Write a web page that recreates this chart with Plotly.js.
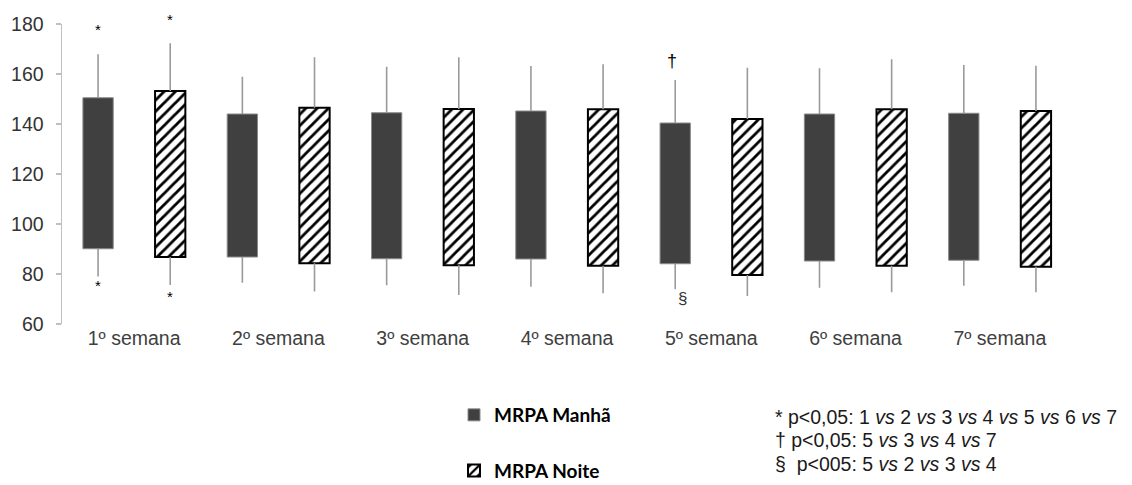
<!DOCTYPE html>
<html>
<head>
<meta charset="utf-8">
<script src="https://cdn.plot.ly/plotly-3.0.1.min.js"></script>
<style>html,body{margin:0;padding:0;background:#fff;}#chart{width:1132px;height:485px;}</style>
</head>
<body>
<div id="chart"></div>
<script>
// ---- data ----
const weeks = ["1º semana","2º semana","3º semana","4º semana","5º semana","6º semana","7º semana"];
// MRPA Manhã: bar spans diastolic mean -> systolic mean, whiskers to extremes
const manhaTop        = [150.5, 144.0, 144.5, 145.2, 140.4, 144.0, 144.3];
const manhaBottom     = [ 90.1,  86.8,  86.1,  86.0,  84.1,  85.2,  85.5];
const manhaWhiskTop   = [167.9, 158.9, 162.9, 163.2, 157.6, 162.3, 163.6];
const manhaWhiskBot   = [ 79.0,  76.5,  75.5,  74.9,  73.9,  74.5,  75.3];
// MRPA Noite
const noiteTop        = [153.2, 146.5, 146.0, 145.9, 142.0, 145.9, 145.2];
const noiteBottom     = [ 86.8,  84.3,  83.5,  83.3,  79.6,  83.3,  82.9];
const noiteWhiskTop   = [172.3, 166.7, 166.7, 163.9, 162.5, 165.9, 163.3];
const noiteWhiskBot   = [ 75.6,  73.0,  71.6,  72.3,  71.2,  72.7,  72.7];
const yTicks = [60, 80, 100, 120, 140, 160, 180];
const seriesNames = ["MRPA Manhã", "MRPA Noite"];
const notes = [
  "* p<0,05: 1 <i>vs</i> 2 <i>vs</i> 3 <i>vs</i> 4 <i>vs</i> 5 <i>vs</i> 6 <i>vs</i> 7",
  "† p<0,05: 5 <i>vs</i> 3 <i>vs</i> 4 <i>vs</i> 7",
  "§  p<005: 5 <i>vs</i> 2 <i>vs</i> 3 <i>vs</i> 4"
];

// ---- layout helpers ----
const idx = weeks.map((_, i) => i + 1);
const OFF = 0.25, BW = 0.21;
const xM = idx.map(v => v - OFF);
const xN = idx.map(v => v + OFF);

function whiskers(xs, top, bot, wTop, wBot) {
  const x = [], y = [];
  xs.forEach((xv, i) => {
    x.push(xv, xv, null, xv, xv, null);
    y.push(top[i], wTop[i], null, bot[i], wBot[i], null);
  });
  return {x, y};
}
const wM = whiskers(xM, manhaTop, manhaBottom, manhaWhiskTop, manhaWhiskBot);
const wN = whiskers(xN, noiteTop, noiteBottom, noiteWhiskTop, noiteWhiskBot);

const traces = [
  {type:'scatter', mode:'lines', x:wM.x, y:wM.y, line:{color:'#9a9a9a', width:1.6},
   showlegend:false, hoverinfo:'skip'},
  {type:'scatter', mode:'lines', x:wN.x, y:wN.y, line:{color:'#9a9a9a', width:1.6},
   showlegend:false, hoverinfo:'skip'},
  {type:'bar', name:seriesNames[0], legendgroup:'m', x:xM,
   base:manhaBottom, y:manhaTop.map((t,i)=>t-manhaBottom[i]), width:BW,
   marker:{color:'#404040', line:{color:'#8a8a8a', width:1}}},
  {type:'bar', name:seriesNames[1], legendgroup:'n', x:xN,
   base:noiteBottom, y:noiteTop.map((t,i)=>t-noiteBottom[i]), width:BW,
   marker:{color:'#ffffff', line:{color:'#000000', width:2},
     pattern:{shape:'/', fgcolor:'#000000', bgcolor:'#ffffff', size:8, solidity:0.35}}}
];

const annotations = [];
const starFont = {family:'Liberation Sans, Arial, sans-serif', size:15, color:'#000000'};
// week 1 significance stars
annotations.push({x:xM[0], y:manhaWhiskTop[0], text:'*', showarrow:false, yanchor:'middle', yshift:25, font:starFont});
annotations.push({x:xN[0], y:noiteWhiskTop[0], text:'*', showarrow:false, yanchor:'middle', yshift:24, font:starFont});
annotations.push({x:xM[0], y:manhaWhiskBot[0], text:'*', showarrow:false, yanchor:'middle', yshift:-9, font:starFont});
annotations.push({x:xN[0], y:noiteWhiskBot[0], text:'*', showarrow:false, yanchor:'middle', yshift:-11, font:starFont});
// week 5 markers
annotations.push({x:xM[4], y:manhaWhiskTop[4], text:'†', showarrow:false, yanchor:'middle', yshift:19, xshift:-3,
  font:{family:'Liberation Sans, Arial, sans-serif', size:18, color:'#000000'}});
annotations.push({x:xM[4], y:manhaWhiskBot[4], text:'§', showarrow:false, yanchor:'middle', yshift:-9, xshift:7,
  font:{family:'Liberation Sans, Arial, sans-serif', size:17, color:'#333333'}});
// notes
const noteY = [417, 440, 464];
notes.forEach((t, i) => {
  annotations.push({xref:'paper', yref:'paper', x:(773-62)/1010, y:(324-noteY[i])/300,
    xanchor:'left', yanchor:'middle', text:t, showarrow:false, align:'left',
    font:{family:'Liberation Sans, Arial, sans-serif', size:19.5, color:'#1a1a1a'}});
});

const layout = {
  width:1132, height:485,
  margin:{l:62, r:60, t:24, b:161, autoexpand:false},
  paper_bgcolor:'#fff', plot_bgcolor:'#fff',
  barmode:'overlay',
  showlegend:true,
  legend:{x:(454-62)/1010, y:(324-396)/300, xanchor:'left', yanchor:'top',
    traceorder:'grouped', tracegroupgap:28, bgcolor:'rgba(0,0,0,0)',
    font:{family:'Lato, sans-serif', size:19, color:'#000', weight:700}},
  xaxis:{range:[0.5, 7.5], tickvals:idx, ticktext:weeks, showline:false, zeroline:false,
    showgrid:false, ticks:'', tickfont:{family:'Liberation Sans, Arial, sans-serif', size:19.5, color:'#404040'}},
  yaxis:{range:[60,180], tickvals:yTicks, showline:true, linecolor:'#bfbfbf', linewidth:1.5,
    ticks:'outside', ticklen:5, tickcolor:'#bfbfbf', tickwidth:1.5, showgrid:false, zeroline:false,
    ticklabelstandoff:8,
    tickfont:{family:'Liberation Sans, Arial, sans-serif', size:19.5, color:'#333'}},
  annotations:annotations
};

Plotly.newPlot('chart', traces, layout, {displayModeBar:false, staticPlot:true});
</script>
</body>
</html>
